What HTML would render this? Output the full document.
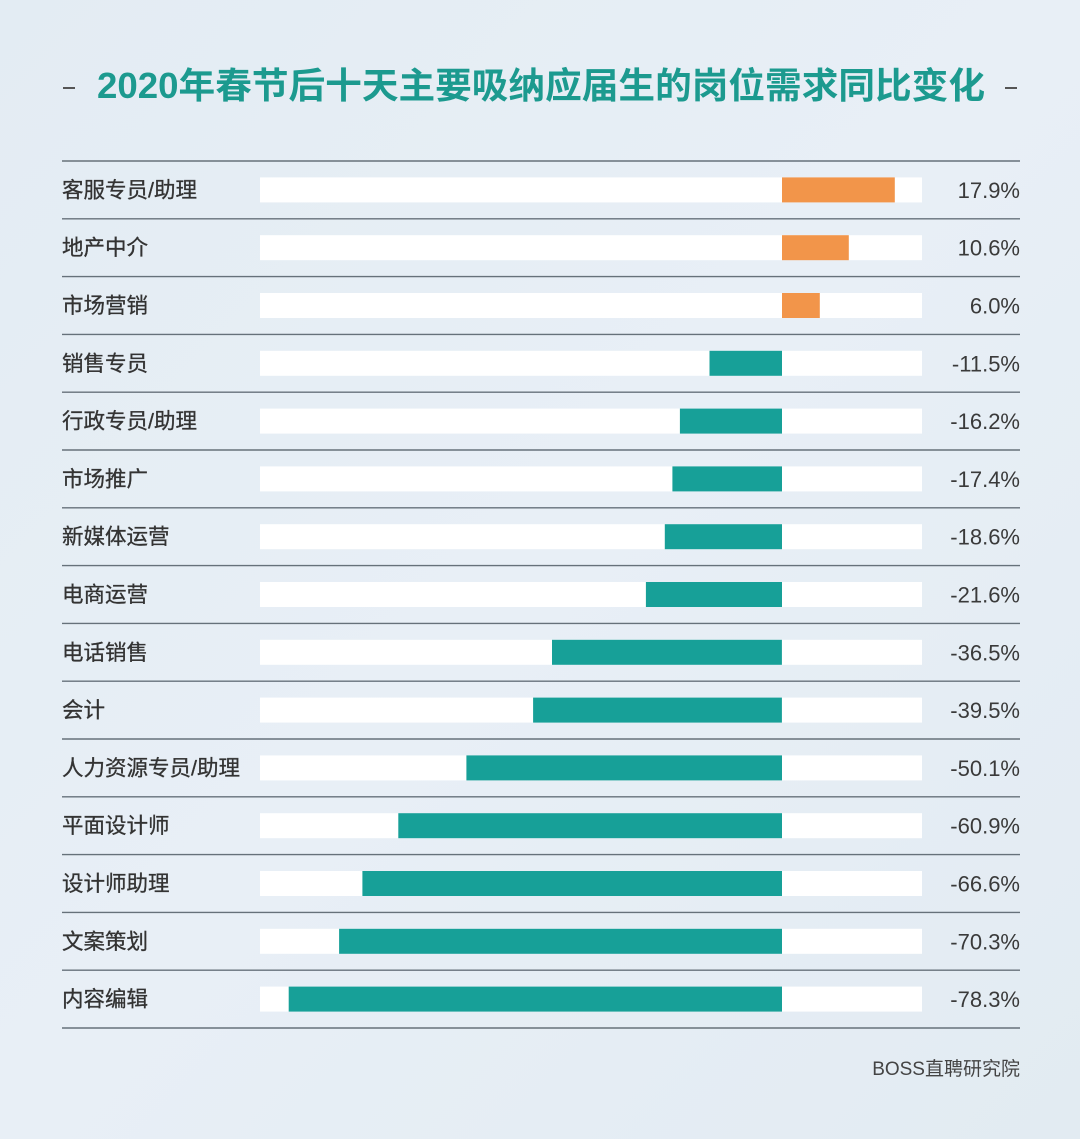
<!DOCTYPE html>
<html><head><meta charset="utf-8">
<style>
html,body{margin:0;padding:0;}
body{width:1080px;height:1139px;background:#e5edf4;overflow:hidden;}
svg{display:block;}
.t{font-family:"Liberation Sans","Noto Sans CJK SC",sans-serif;}
</style></head>
<body>
<svg width="1080" height="1139" viewBox="0 0 1080 1139" xmlns="http://www.w3.org/2000/svg">
<defs>
<linearGradient id="bg" x1="0" y1="0" x2="1" y2="1">
<stop offset="0" stop-color="#e3ecf3"/><stop offset="0.5" stop-color="#e8eff6"/><stop offset="1" stop-color="#e2ebf2"/>
</linearGradient>
</defs>
<rect width="1080" height="1139" fill="url(#bg)"/>
<rect x="63" y="87" width="12" height="2" fill="#555"/>
<rect x="1005" y="87" width="12" height="2" fill="#555"/>
<text class="t" x="541" y="98" text-anchor="middle" font-size="36" font-weight="bold" fill="#1c9a8f" textLength="888" lengthAdjust="spacingAndGlyphs">2020年春节后十天主要吸纳应届生的岗位需求同比变化</text>
<g id="rows"></g>
<text class="t" x="1020" y="1075" text-anchor="end" font-size="19" fill="#444">BOSS直聘研究院</text>
</svg>
<script>
var data=[["客服专员/助理",17.9],["地产中介",10.6],["市场营销",6.0],["销售专员",-11.5],["行政专员/助理",-16.2],["市场推广",-17.4],["新媒体运营",-18.6],["电商运营",-21.6],["电话销售",-36.5],["会计",-39.5],["人力资源专员/助理",-50.1],["平面设计师",-60.9],["设计师助理",-66.6],["文案策划",-70.3],["内容编辑",-78.3]];
var g=document.getElementById("rows"),h="";
var top0=161,step=57.8,zero=782,sc=6.3;
h+='<line x1="62" x2="1020" y1="'+top0+'" y2="'+top0+'" stroke="#66717a" stroke-width="1.4"/>';
data.forEach(function(d,i){
 var cy=top0+step*(i+0.5);
 var yl=top0+step*(i+1);
 h+='<line x1="62" x2="1020" y1="'+yl.toFixed(1)+'" y2="'+yl.toFixed(1)+'" stroke="#66717a" stroke-width="1.4"/>';
 h+='<rect x="260" y="'+(cy-12.5).toFixed(1)+'" width="662" height="25" fill="#ffffff"/>';
 var v=d[1],w=Math.abs(v)*sc,x=v>=0?zero:zero-w;
 h+='<rect x="'+x.toFixed(1)+'" y="'+(cy-12.5).toFixed(1)+'" width="'+w.toFixed(1)+'" height="25" fill="'+(v>=0?"#f2954a":"#17a098")+'"/>';
 h+='<text class="t" x="62" y="'+(cy+7.5).toFixed(1)+'" font-size="21.5" fill="#333" stroke="#333" stroke-width="0.3">'+d[0]+'</text>';
 h+='<text class="t" x="1020" y="'+(cy+8).toFixed(1)+'" text-anchor="end" font-size="22" fill="#3a3a3a">'+v.toFixed(1)+'%</text>';
});
g.innerHTML=h;
</script>
</body></html>
